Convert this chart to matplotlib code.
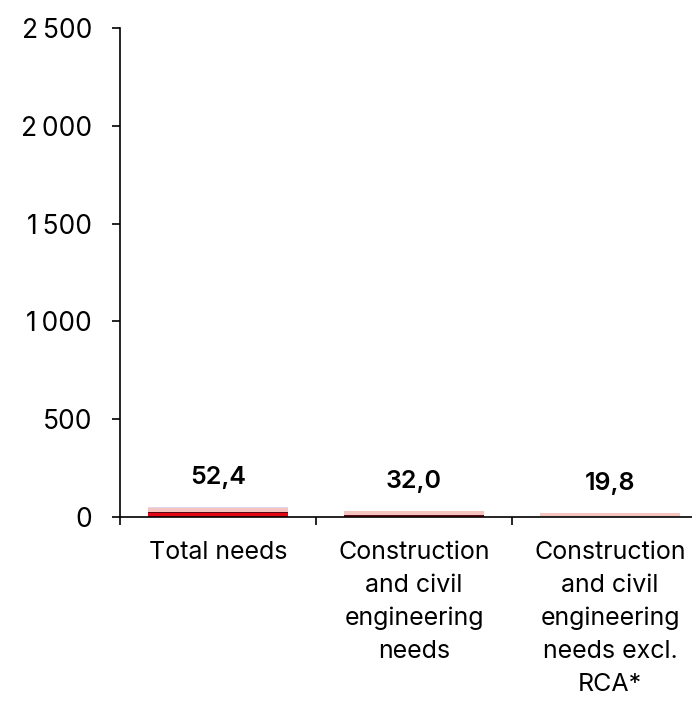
import numpy as np
import matplotlib
matplotlib.use('Agg')
import matplotlib.pyplot as plt
from matplotlib.ticker import FuncFormatter

plt.rcParams['font.family'] = ['Inter', 'DejaVu Sans']

# 数据
categories = ['Total needs',
              'Construction\nand civil\nengineering\nneeds',
              'Construction\nand civil\nengineering\nneeds excl.\nRCA*']
seg_red = [20.0, 3.0, 1.0]
seg_dark = [6.0, 6.0, 1.0]
seg_pink = [21.0, 21.0, 16.8]
seg_lav = [5.4, 2.0, 1.0]
totals = ['52,4', '32,0', '19,8']
yticks = [0, 500, 1000, 1500, 2000, 2500]

colors = ['#E30613', '#5A0A14', '#F6C4BE', '#DCD6EE']

fig = plt.figure(figsize=(6.92, 7.04), dpi=100)
ax = fig.add_axes([120 / 692, 1 - 517 / 704, 588 / 692, 489 / 704])

x = np.arange(len(categories))
bottom = np.zeros(len(categories))
for seg, c in zip([seg_red, seg_dark, seg_pink, seg_lav], colors):
    ax.bar(x, seg, bottom=bottom, width=0.714, color=c, zorder=2)
    bottom += np.array(seg)

for xi, top, lab in zip(x, bottom, totals):
    ax.text(xi, top + 150, lab, ha='center', va='center', fontsize=18,
            fontweight='semibold', color='black')

ax.set_xlim(-0.5, 2.5)
ax.set_ylim(0, 2500)
ax.set_yticks(yticks)
ax.yaxis.set_major_formatter(FuncFormatter(
    lambda v, p: f'{int(v):,}'.replace(',', '\u2009')))
ax.tick_params(axis='y', direction='out', length=6, width=1.2,
               labelsize=19, pad=14, colors='black')

ax.set_xticks(x)
ax.set_xticklabels(categories, fontsize=18, linespacing=1.55)
ax.tick_params(axis='x', which='major', length=0, pad=17)
ax.set_xticks([-0.5, 0.5, 1.5], minor=True)
ax.tick_params(axis='x', which='minor', direction='out', length=6, width=1.2)

for s in ['top', 'right']:
    ax.spines[s].set_visible(False)
for s in ['left', 'bottom']:
    ax.spines[s].set_linewidth(1.2)

fig.savefig('out.png', dpi=100)
